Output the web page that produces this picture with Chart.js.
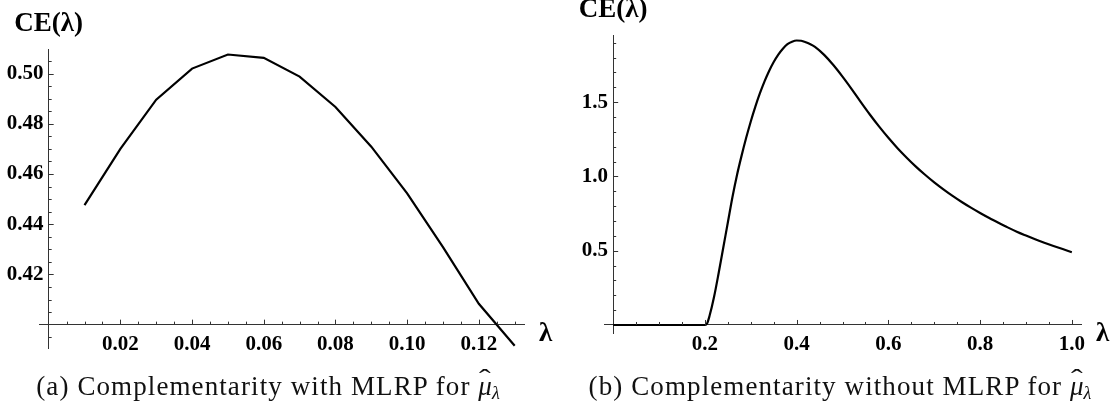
<!DOCTYPE html>
<html>
<head>
<meta charset="utf-8">
<script src="https://cdn.jsdelivr.net/npm/chart.js@4"></script>
<style>
  body { margin: 0; background: #fff; }
  #wrap { position: relative; width: 1120px; height: 404px; overflow: hidden; }
  .panel { position: absolute; top: 0; width: 560px; height: 404px; }
  .cap {
    position: absolute; top: 371px; width: 600px; text-align: center;
    font-family: "Liberation Serif", serif; font-size: 27px; line-height: 30px;
    letter-spacing: 1.1px; color: #111; white-space: nowrap;
  }
  .cap .mu { position: relative; display: inline-block; font-style: italic; letter-spacing: 0; }
  .cap .hat { position: absolute; left: 1px; top: -7px; font-style: normal; transform: scaleX(1.3); transform-origin: left; }
  .cap sub { font-size: 18px; font-style: italic; vertical-align: -4px; letter-spacing: 0; }
</style>
</head>
<body>
<div id="wrap">
  <div class="panel" style="left:0">
    <canvas id="chartA" width="560" height="404"></canvas>
    <div class="cap" style="left:-32px">(a) Complementarity with MLRP for <span class="mu">μ<span class="hat">ˆ</span></span><sub>λ</sub></div>
  </div>
  <div class="panel" style="left:560px">
    <canvas id="chartB" width="560" height="404"></canvas>
    <div class="cap" style="left:-20px">(b) Complementarity without MLRP for <span class="mu">μ<span class="hat">ˆ</span></span><sub>λ</sub></div>
  </div>
</div>
<script>
// Panel (a): piecewise-linear curve
const lambdaA = [0.01, 0.02, 0.03, 0.04, 0.05, 0.06, 0.07, 0.08, 0.09, 0.10, 0.11, 0.12, 0.13];
const ceA = [0.4476, 0.4700, 0.4896, 0.5020, 0.5076, 0.5063, 0.4988, 0.4867, 0.4709, 0.4523, 0.4309, 0.4083, 0.3916];
const xLabelsA = [0.02, 0.04, 0.06, 0.08, 0.10, 0.12];
const yLabelsA = [0.42, 0.44, 0.46, 0.48, 0.50];

// Panel (b): smooth curve
const lambdaB = [0, 0.2, 0.205, 0.21, 0.22, 0.23, 0.24, 0.25, 0.26, 0.27, 0.28, 0.29, 0.30, 0.31, 0.32, 0.33,
  0.34, 0.35, 0.36, 0.37, 0.38, 0.39, 0.40, 0.41, 0.42, 0.43, 0.44, 0.46, 0.48, 0.50, 0.52, 0.54, 0.56, 0.58, 0.60,
  0.62, 0.64, 0.66, 0.68, 0.70, 0.72, 0.74, 0.76, 0.78, 0.80, 0.82, 0.84, 0.86, 0.88, 0.90, 0.92, 0.94,
  0.96, 0.98, 1.00];
const ceB = [0, 0, 0.012, 0.06, 0.19, 0.35, 0.52, 0.69, 0.86, 1.01, 1.14, 1.26, 1.37, 1.47, 1.56, 1.64,
  1.71, 1.77, 1.82, 1.86, 1.89, 1.907, 1.915, 1.913, 1.903, 1.89, 1.872, 1.818, 1.75, 1.672, 1.588, 1.50, 1.415, 1.335, 1.26,
  1.19, 1.126, 1.066, 1.011, 0.96, 0.913, 0.869, 0.828, 0.79, 0.754, 0.72, 0.688, 0.657, 0.628, 0.602, 0.577, 0.554,
  0.532, 0.511, 0.49];
const xLabelsB = [0.2, 0.4, 0.6, 0.8, 1.0];
const yLabelsB = [0.5, 1.0, 1.5];

const tickFont = { family: 'Liberation Serif', weight: 'bold', size: 21 };

function near(a, b) { return Math.abs(a - b) < 1e-9; }

function stepTicks(step) {
  return scale => {
    const out = [];
    for (let i = Math.ceil(scale.min / step - 1e-9); i * step <= scale.max + 1e-9; i++) {
      out.push({ value: +(i * step).toFixed(6) });
    }
    scale.ticks = out;
  };
}

// Mathematica-style inward tick marks plus the axis names
const axisDecor = {
  id: 'axisDecor',
  afterDatasetsDraw(chart, args, o) {
    const { ctx, chartArea, scales: { x, y } } = chart;
    const axisY = y.getPixelForValue(o.xAxisAt);
    const axisX = x.getPixelForValue(o.yAxisAt);
    const isMajor = (v, m) => near(v / m, Math.round(v / m));
    ctx.save();
    ctx.strokeStyle = '#333';
    ctx.lineWidth = 1;
    ctx.beginPath();
    x.ticks.forEach(t => {
      if (near(t.value, o.yAxisAt)) return;
      const px = Math.round(x.getPixelForValue(t.value)) + 0.5;
      ctx.moveTo(px, axisY);
      ctx.lineTo(px, axisY - (isMajor(t.value, o.xMajor) ? 5 : 3));
    });
    y.ticks.forEach(t => {
      if (near(t.value, o.xAxisAt)) return;
      const py = Math.round(y.getPixelForValue(t.value)) + 0.5;
      ctx.moveTo(axisX, py);
      ctx.lineTo(axisX + (isMajor(t.value, o.yMajor) ? 5 : 3), py);
    });
    ctx.stroke();
    ctx.fillStyle = '#000';
    ctx.font = 'bold 27px "Liberation Serif"';
    ctx.textBaseline = 'middle';
    ctx.textAlign = 'center';
    ctx.fillText('CE(λ)', axisX, chartArea.top - 25);
    ctx.textAlign = 'left';
    ctx.fillText('λ', chartArea.right + 15, axisY + 9);
    ctx.restore();
  }
};

function makeChart(id, xs, ys, cfg) {
  return new Chart(document.getElementById(id), {
    type: 'line',
    data: {
      datasets: [{
        data: xs.map((v, i) => ({ x: v, y: ys[i] })),
        borderColor: '#000',
        borderWidth: 2.2,
        pointRadius: 0,
        tension: cfg.smooth ? 0.4 : 0,
        cubicInterpolationMode: cfg.smooth ? 'monotone' : 'default',
        fill: false
      }]
    },
    options: {
      responsive: false,
      animation: false,
      layout: { padding: cfg.padding },
      plugins: {
        legend: { display: false },
        tooltip: { enabled: false },
        axisDecor: { xAxisAt: cfg.xAxisAt, yAxisAt: 0, xMajor: cfg.xMajor, yMajor: cfg.yMajor }
      },
      scales: {
        x: {
          type: 'linear',
          min: cfg.xMin, max: cfg.xMax,
          position: { y: cfg.xAxisAt },
          afterBuildTicks: stepTicks(cfg.xMinor),
          grid: { display: false, drawTicks: false },
          border: { display: true, color: '#333', width: 1 },
          ticks: {
            autoSkip: false, maxRotation: 0, padding: 7, color: '#000', font: tickFont,
            callback: v => cfg.xLabels.some(t => near(t, v)) ? v.toFixed(cfg.xDigits) : ''
          }
        },
        y: {
          type: 'linear',
          min: cfg.yMin, max: cfg.yMax,
          position: { x: 0 },
          afterBuildTicks: stepTicks(cfg.yMinor),
          grid: { display: false, drawTicks: false },
          border: { display: true, color: '#333', width: 1 },
          ticks: {
            autoSkip: false, padding: 6, color: '#000', font: tickFont,
            // trailing space keeps the label clear of the axis line
            callback: v => cfg.yLabels.some(t => near(t, v)) ? v.toFixed(cfg.yDigits) + ' ' : ''
          }
        }
      }
    },
    plugins: [axisDecor]
  });
}

makeChart('chartA', lambdaA, ceA, {
  smooth: false,
  padding: { left: 39, right: 36, top: 49, bottom: 56 },
  xMin: -0.0027, xMax: 0.1326, yMin: 0.3907, yMax: 0.5098,
  xAxisAt: 0.40, xMinor: 0.005, yMinor: 0.005, xMajor: 0.02, yMajor: 0.02,
  xLabels: xLabelsA, yLabels: yLabelsA, xDigits: 2, yDigits: 2
});

makeChart('chartB', lambdaB, ceB, {
  smooth: true,
  padding: { left: 44, right: 39, top: 35, bottom: 71 },
  xMin: -0.02, xMax: 1.02, yMin: -0.054, yMax: 1.952,
  xAxisAt: 0, xMinor: 0.05, yMinor: 0.1, xMajor: 0.2, yMajor: 0.5,
  xLabels: xLabelsB, yLabels: yLabelsB, xDigits: 1, yDigits: 1
});
</script>
</body>
</html>
